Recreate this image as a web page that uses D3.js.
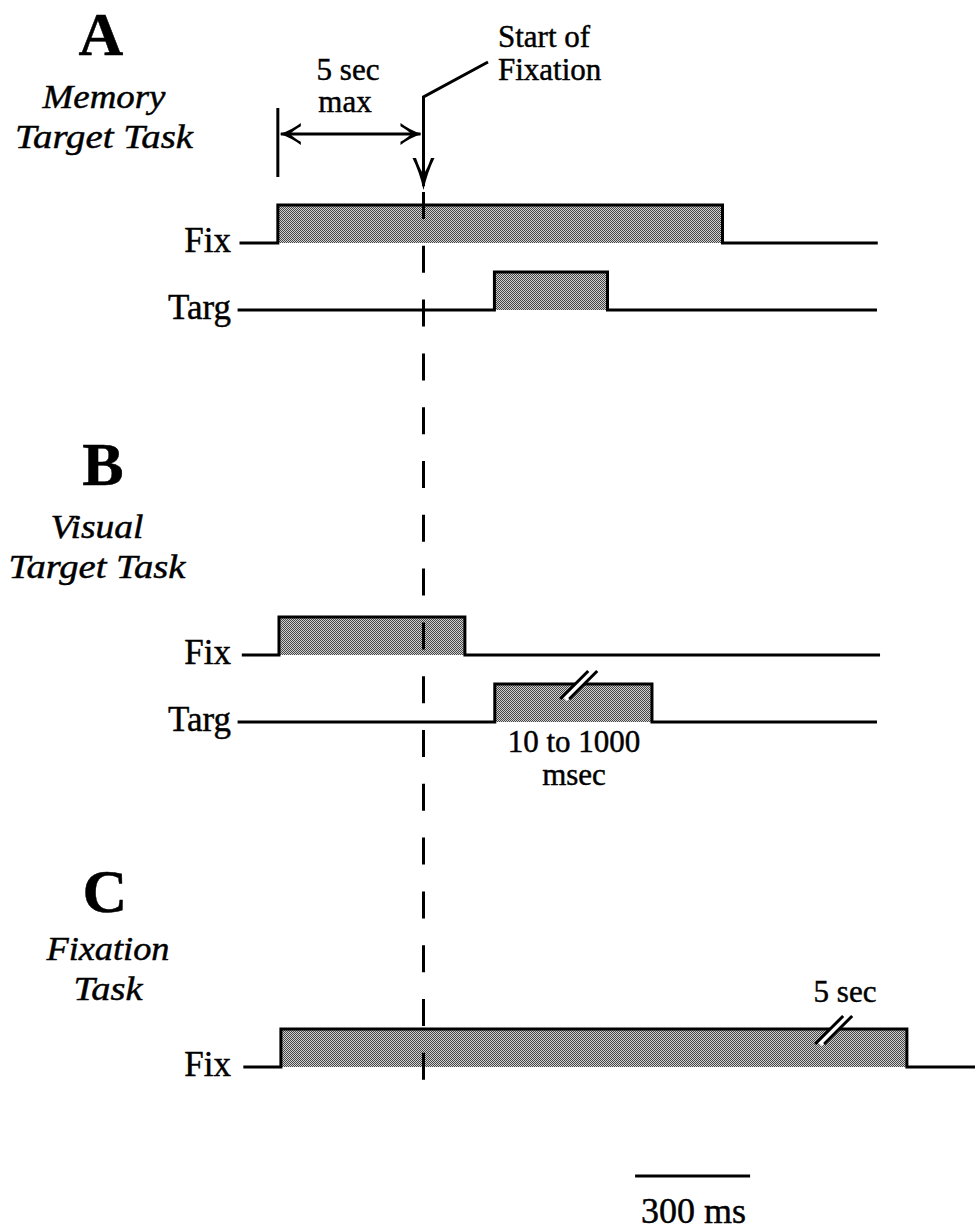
<!DOCTYPE html>
<html>
<head>
<meta charset="utf-8">
<script src="https://cdn.jsdelivr.net/npm/d3@7"></script>
<style>
  html, body { margin: 0; padding: 0; background: #fff; }
  svg { display: block; }
  text { font-family: "Liberation Serif", "Times New Roman", serif; fill: #000; stroke: #000; stroke-width: 0.45px; }
</style>
</head>
<body>
<svg id="chart" width="975" height="1232"></svg>
<script>
// ---- timing data (ms, relative to the start of fixation) ----
const traceLabels = ["Fix", "Targ", "Fix", "Targ", "Fix"];
const tracePanel  = [0, 0, 1, 1, 2];
const traceRow    = [0, 1, 0, 1, 0];
const traceStart  = [-480, -485, -474, -485, -470];
const pulseOn     = [-380, 185, -377, 186, -372];
const pulseOff    = [780, 480, 108, 596, 1261];
const traceEnd    = [1185, 1183, 1191, 1183, 1440];
const breakAt     = [null, null, null, 405, 1070];

// panel headings
const panelLetters = ["A", "B", "C"];
const panelTitles  = [["Memory", "Target Task"], ["Visual", "Target Task"], ["Fixation", "Task"]];

// annotations
const fixationOnset = 0;
const maxWaitSpan   = [-380, 0];
const maxWaitLabel  = ["5 sec", "max"];
const onsetLabel    = ["Start of", "Fixation"];
const targDurLabel  = ["10 to 1000", "msec"];
const fixDurLabel   = "5 sec";
const scaleBar      = [552, 852];
const scaleBarLabel = "300 ms";

// ---- scales ----
const x = d3.scaleLinear().domain([-480, 1440]).range([239.5, 975.5]);
const panelY = d3.scaleLinear().domain([0, 2]).range([243, 1067]); // baseline of first row per panel
const rowGap = 67;
const level = d3.scaleLinear().domain([0, 1]).range([0, -38]);     // off / on
const baseY = i => panelY(tracePanel[i]) + rowGap * traceRow[i];

const svg = d3.select("#chart");

// stipple fill for the "on" periods
const defs = svg.append("defs");
const pat = defs.append("pattern").attr("id", "stipple")
  .attr("patternUnits", "userSpaceOnUse").attr("width", 2).attr("height", 2);
pat.append("rect").attr("width", 2).attr("height", 2).attr("fill", "#cfcfcf");
pat.append("rect").attr("x", 0).attr("y", 0).attr("width", 1).attr("height", 1).attr("fill", "#474747");
pat.append("rect").attr("x", 1).attr("y", 1).attr("width", 1).attr("height", 1).attr("fill", "#474747");

const idx = d3.range(traceLabels.length);

// pulse fills
svg.append("g").selectAll("rect").data(idx).join("rect")
  .attr("x", i => x(pulseOn[i]))
  .attr("y", i => baseY(i) + level(1))
  .attr("width", i => x(pulseOff[i]) - x(pulseOn[i]))
  .attr("height", i => level(0) - level(1))
  .attr("fill", "url(#stipple)");

// trace outlines
svg.append("g").selectAll("path").data(idx).join("path")
  .attr("d", i => {
    const yb = baseY(i) + level(0), yt = baseY(i) + level(1);
    return `M${x(traceStart[i])},${yb}H${x(pulseOn[i])}V${yt}H${x(pulseOff[i])}V${yb}H${x(traceEnd[i])}`;
  })
  .attr("fill", "none").attr("stroke", "#000").attr("stroke-width", 3)
  .attr("stroke-linejoin", "miter");

// trace labels
svg.append("g").selectAll("text").data(idx).join("text")
  .attr("x", 231).attr("y", i => baseY(i) + 9)
  .attr("text-anchor", "end").attr("font-size", 35)
  .text(i => traceLabels[i]);

// break marks on long pulses
const breaks = idx.filter(i => breakAt[i] !== null);
const bg = svg.append("g").selectAll("g").data(breaks).join("g")
  .attr("transform", i => `translate(${x(breakAt[i])},${baseY(i) + level(1)})`);
bg.append("line").attr("x1", -14).attr("y1", 15).attr("x2", 14).attr("y2", -13)
  .attr("stroke", "#fff").attr("stroke-width", 6);
[-4.5, 4.5].forEach(dx => {
  bg.append("line").attr("x1", -14 + dx).attr("y1", 15).attr("x2", 14 + dx).attr("y2", -13)
    .attr("stroke", "#000").attr("stroke-width", 3);
});

// dashed line at the start of fixation
const x0 = x(fixationOnset);
svg.append("line")
  .attr("x1", x0).attr("x2", x0).attr("y1", 192).attr("y2", 1081)
  .attr("stroke", "#000").attr("stroke-width", 3)
  .attr("stroke-dasharray", "27,26.8");

// barbed arrowhead, tip at origin, pointing toward +y
function arrowHead(len, w, t) {
  return `M0,0 Q${-w * 0.35},${-len * 0.55} ${-w},${-len} L${-w + t},${-len} ` +
         `Q${-w * 0.3},${-len * 0.62} 0,${-len * 0.5} ` +
         `Q${w * 0.3},${-len * 0.62} ${w - t},${-len} L${w},${-len} ` +
         `Q${w * 0.35},${-len * 0.55} 0,0Z`;
}

// "Start of Fixation" pointer
svg.append("path")
  .attr("d", `M488,62 L${x0},97 V186`)
  .attr("fill", "none").attr("stroke", "#000").attr("stroke-width", 3)
  .attr("stroke-linejoin", "miter");
svg.append("path").attr("d", arrowHead(32, 11, 3.5))
  .attr("transform", `translate(${x0},190)`).attr("fill", "#000");
svg.append("g").selectAll("text").data(onsetLabel).join("text")
  .attr("x", 498).attr("y", (d, i) => 47 + i * 33)
  .attr("font-size", 31).text(d => d);

// maximum wait span
const ya = 134;
svg.append("line")
  .attr("x1", x(maxWaitSpan[0])).attr("x2", x(maxWaitSpan[0]))
  .attr("y1", 108).attr("y2", 177)
  .attr("stroke", "#000").attr("stroke-width", 3);
svg.append("line")
  .attr("x1", x(maxWaitSpan[0]) + 3).attr("x2", x(maxWaitSpan[1]) - 3)
  .attr("y1", ya).attr("y2", ya)
  .attr("stroke", "#000").attr("stroke-width", 3);
svg.append("path").attr("d", arrowHead(21, 11, 3.2))
  .attr("transform", `translate(${x(maxWaitSpan[0]) + 2},${ya}) rotate(90)`).attr("fill", "#000");
svg.append("path").attr("d", arrowHead(21, 11, 3.2))
  .attr("transform", `translate(${x(maxWaitSpan[1]) - 2},${ya}) rotate(-90)`).attr("fill", "#000");
svg.append("g").selectAll("text").data(maxWaitLabel).join("text")
  .attr("x", (d, i) => i === 0 ? 348 : 345).attr("y", (d, i) => 80 + i * 32)
  .attr("text-anchor", "middle").attr("font-size", 31).text(d => d);

// duration notes
svg.append("g").selectAll("text").data(targDurLabel).join("text")
  .attr("x", 574).attr("y", (d, i) => 752 + i * 33)
  .attr("text-anchor", "middle").attr("font-size", 31).text(d => d);
svg.append("text").attr("x", 845).attr("y", 1002)
  .attr("text-anchor", "middle").attr("font-size", 31).text(fixDurLabel);

// panel letters and titles
const letterX = [101, 103, 105];
const letterY = [55, 485, 912];
const titleX  = [104, 97, 108];
const titleY  = [108, 538, 960];
const titleW  = [[123, 178], [93, 177], [123, 69]];
svg.append("g").selectAll("text").data(panelLetters).join("text")
  .attr("x", (d, i) => letterX[i]).attr("y", (d, i) => letterY[i])
  .attr("text-anchor", "middle").attr("font-size", 62).attr("font-weight", "bold")
  .text(d => d);
panelTitles.forEach((lines, p) => {
  lines.forEach((t, k) => {
    svg.append("text")
      .attr("x", titleX[p] - titleW[p][k] / 2).attr("y", titleY[p] + k * 40)
      .attr("font-size", 33).attr("font-style", "italic")
      .attr("textLength", titleW[p][k]).attr("lengthAdjust", "spacingAndGlyphs")
      .text(t);
  });
});

// time scale bar
svg.append("line")
  .attr("x1", x(scaleBar[0])).attr("x2", x(scaleBar[1]))
  .attr("y1", 1176).attr("y2", 1176)
  .attr("stroke", "#000").attr("stroke-width", 3);
svg.append("text")
  .attr("x", (x(scaleBar[0]) + x(scaleBar[1])) / 2 + 1).attr("y", 1223)
  .attr("text-anchor", "middle").attr("font-size", 36).text(scaleBarLabel);
</script>
</body>
</html>
